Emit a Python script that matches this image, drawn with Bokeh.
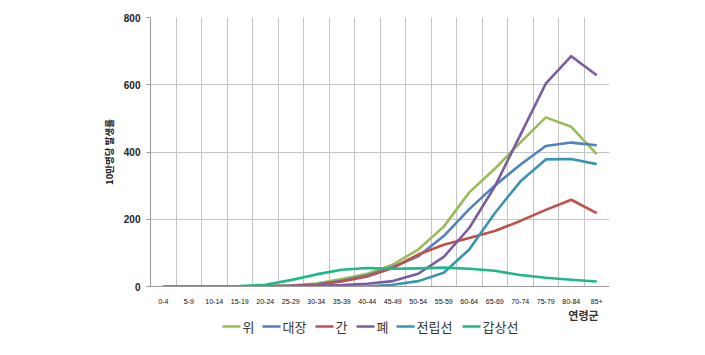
from bokeh.plotting import figure
from bokeh.models import Range1d, FixedTicker, Label, ColumnDataSource
from bokeh.layouts import column
from bokeh.embed import file_html
from bokeh.resources import INLINE

ages = ["0-4", "5-9", "10-14", "15-19", "20-24", "25-29", "30-34", "35-39", "40-44",
        "45-49", "50-54", "55-59", "60-64", "65-69", "70-74", "75-79", "80-84", "85+"]

stomach = [0, 0, 0, 0, 1, 3, 9, 22, 38, 65, 110, 178, 280, 350, 428, 503, 475, 394]
colon = [0, 0, 0, 0, 1, 2, 6, 17, 33, 58, 90, 150, 230, 300, 362, 418, 428, 420]
liver = [0, 0, 0, 0, 1, 2, 5, 15, 30, 55, 95, 124, 144, 165, 195, 228, 258, 218]
lung = [0, 0, 0, 0, 0, 1, 2, 4, 8, 16, 38, 88, 174, 297, 450, 603, 685, 628]
prostate = [0, 0, 0, 0, 0, 0, 0, 0, 0, 5, 16, 41, 110, 218, 312, 378, 379, 364]
thyroid = [0, 0, 0, 1, 5, 19, 36, 50, 55, 53, 54, 56, 53, 47, 34, 26, 20, 15]

names = ["위", "대장", "간", "폐", "전립선", "갑상선"]
series = [stomach, colon, liver, lung, prostate, thyroid]
colors = ["#9BBB59", "#4F81BD", "#C0504D", "#7A5C9E", "#3796AE", "#1FB88A"]

y_ticks = [0, 200, 400, 600, 800]
y_title = "10만명당 발생률"
x_title = "연령군"

KR = "Noto Sans CJK KR"

# ---------------- main chart ----------------
H1 = 306
LEFT, RIGHT = 150, 96
p = figure(width=705, height=H1, output_backend="svg", toolbar_location=None,
           x_range=Range1d(-0.5, len(ages) - 0.5), y_range=Range1d(0, 800),
           min_border_left=LEFT, min_border_right=RIGHT, min_border_top=17,
           min_border_bottom=19)
p.outline_line_color = None
p.background_fill_color = "white"

xs = list(range(len(ages)))
for ys, c in zip(series, colors):
    p.line(xs, ys, line_color=c, line_width=2.6, line_join="round")

p.xaxis.ticker = FixedTicker(ticks=xs)
p.xaxis.major_label_overrides = {i: a for i, a in enumerate(ages)}
p.xaxis.major_label_text_font = "Liberation Sans"
p.xaxis.major_label_text_font_size = "7px"
p.xaxis.major_label_text_color = "#111111"
p.xaxis.major_tick_line_color = None
p.xaxis.minor_tick_line_color = None
p.xaxis.axis_line_color = "#9A9A9A"
p.xaxis.major_label_standoff = 6

p.yaxis.ticker = FixedTicker(ticks=y_ticks)
p.yaxis.major_label_text_font = "Liberation Sans"
p.yaxis.major_label_text_font_style = "bold"
p.yaxis.major_label_text_font_size = "10px"
p.yaxis.major_label_text_color = "#222222"
p.yaxis.major_tick_line_color = "#9A9A9A"
p.yaxis.major_tick_out = 4
p.yaxis.major_tick_in = 0
p.yaxis.minor_tick_line_color = None
p.yaxis.axis_line_color = "#9A9A9A"
p.yaxis.major_label_standoff = 6
p.yaxis.axis_label = y_title
p.yaxis.axis_label_text_font = KR
p.yaxis.axis_label_text_font_style = "bold"
p.yaxis.axis_label_text_font_size = "9.5px"
p.yaxis.axis_label_text_color = "#222222"
p.yaxis.axis_label_standoff = 5

p.xgrid.ticker = FixedTicker(ticks=[i - 0.5 for i in range(len(ages) + 1)])
p.xgrid.grid_line_color = "#C4C4C4"
p.ygrid.grid_line_color = "#C4C4C4"

# ---------------- legend strip (pixel coordinates, frame aligned with p) ----------------
H2 = 355 - H1
q = figure(width=705, height=H2, output_backend="svg", toolbar_location=None,
           x_range=Range1d(LEFT, 705 - RIGHT), y_range=Range1d(H2, 0),
           min_border=0, x_axis_type=None, y_axis_type=None)
q.outline_line_color = None
q.xgrid.visible = False
q.ygrid.visible = False

# layout of the legend entries (screen x of each swatch start)
leg_x = [222, 262, 315, 356, 396, 462]
leg_y = 20
sw = 18
src = ColumnDataSource(dict(
    x0=leg_x, x1=[x + sw for x in leg_x], tx=[x + sw + 2 for x in leg_x],
    y=[leg_y] * len(leg_x), name=names, color=colors))
q.segment(x0="x0", y0="y", x1="x1", y1="y", line_color="color",
          line_width=2.6, source=src)
q.text(x="tx", y="y", text="name", text_font={"value": KR},
       text_font_size={"value": "13px"}, text_color="#333333",
       text_baseline="middle", text_align="left", source=src)

q.add_layout(Label(x=583, y=8, text=x_title, text_font=KR,
                   text_font_style="bold", text_font_size="11px",
                   text_color="#333333", text_align="center",
                   text_baseline="middle"))

layout = column(p, q, spacing=0)
open("out.html", "w").write(file_html(layout, INLINE))
